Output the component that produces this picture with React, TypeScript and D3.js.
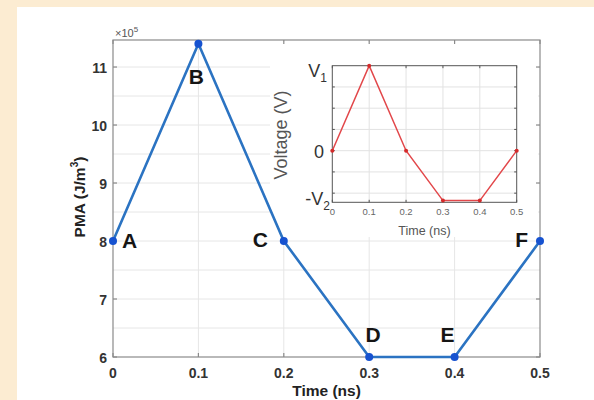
import React from "react";
import * as d3 from "d3";

// ---- data ----
const timeNs = [0, 0.1, 0.2, 0.3, 0.4, 0.5];
const pmaValues = [8, 11.4, 8, 6, 6, 8]; // ×10^5 J/m^3
const pointLabels = ["A", "B", "C", "D", "E", "F"];
const xTickValues = [0, 0.1, 0.2, 0.3, 0.4, 0.5];
const xTickLabels = ["0", "0.1", "0.2", "0.3", "0.4", "0.5"];
const yTickValues = [6, 7, 8, 9, 10, 11];
const yGridValues = [6.5, 7, 7.5, 8, 8.5, 9, 9.5, 10, 10.5, 11];

const insetTime = [0, 0.1, 0.2, 0.3, 0.4, 0.5];
const insetVoltage = [0, 4, 0, -2.35, -2.35, 0]; // arbitrary units (V1 = 4, V2 = 2.35)
const insetYGrid = [-2, -1, 0, 1, 2, 3];
const insetXTickLabels = ["0", "0.1", "0.2", "0.3", "0.4", "0.5"];

const W = 594;
const H = 400;
const FONT = "'Liberation Sans', Arial, Helvetica, sans-serif";

// label offsets relative to points (layout)
const labelLayout: Record<string, { dx: number; dy: number; anchor: string }> = {
  A: { dx: 9, dy: 7, anchor: "start" },
  B: { dx: -2, dy: 40, anchor: "middle" },
  C: { dx: -16, dy: 6, anchor: "end" },
  D: { dx: 4, dy: -15, anchor: "middle" },
  E: { dx: -7, dy: -15, anchor: "middle" },
  F: { dx: -12, dy: 6, anchor: "end" },
};

export default function App() {
  const x = d3.scaleLinear().domain([0, 0.5]).range([113, 540]);
  const y = d3.scaleLinear().domain([6, 11.466]).range([357, 40]);

  const line = d3
    .line<number>()
    .x((_, i) => x(timeNs[i]))
    .y((d) => y(d));

  const xi = d3.scaleLinear().domain([0, 0.5]).range([332.3, 516.7]);
  const yi = d3.scaleLinear().domain([-2.43, 4]).range([202.3, 65.7]);
  const iline = d3
    .line<number>()
    .x((_, i) => xi(insetTime[i]))
    .y((d) => yi(d));

  const [x0, x1] = x.range();
  const [y0, y1] = y.range();
  const [ix0, ix1] = xi.range();
  const [iy0, iy1] = yi.range();

  return (
    <div style={{ position: "absolute", left: 0, top: 0 }}>
      <svg width={W} height={H} style={{ display: "block" }} fontFamily={FONT}>
        <rect x={0} y={0} width={W} height={H} fill="#fcecd2" />
        <rect x={17} y={7} width={W - 17} height={H - 7} fill="#ffffff" />

        {/* main grid */}
        <g stroke="#e6e6e6" strokeWidth={1}>
          {xTickValues.slice(1, -1).map((t) => (
            <line key={"gx" + t} x1={x(t)} x2={x(t)} y1={y1} y2={y0} />
          ))}
          {yGridValues.map((v) => (
            <line key={"gy" + v} x1={x0} x2={x1} y1={y(v)} y2={y(v)} />
          ))}
        </g>

        {/* inset background (hides main grid) */}
        <rect x={270} y={42} width={538 - 270} height={237 - 42} fill="#ffffff" />

        {/* main axes box + ticks */}
        <g stroke="#8a8a8a" strokeWidth={1.2} fill="none">
          <rect x={x0} y={y1} width={x1 - x0} height={y0 - y1} />
          {xTickValues.map((t) => (
            <g key={"tx" + t}>
              <line x1={x(t)} x2={x(t)} y1={y0} y2={y0 - 4} />
              <line x1={x(t)} x2={x(t)} y1={y1} y2={y1 + 4} />
            </g>
          ))}
          {yTickValues.map((v) => (
            <g key={"ty" + v}>
              <line x1={x0} x2={x0 + 4} y1={y(v)} y2={y(v)} />
              <line x1={x1} x2={x1 - 4} y1={y(v)} y2={y(v)} />
            </g>
          ))}
        </g>

        {/* tick labels */}
        <g fontSize={14} fontWeight="bold" fill="#333">
          {xTickValues.map((t, i) => (
            <text key={"lx" + t} x={x(t)} y={y0 + 21} textAnchor="middle">
              {xTickLabels[i]}
            </text>
          ))}
          {yTickValues.map((v) => (
            <text key={"ly" + v} x={x0 - 6} y={y(v) + 6} textAnchor="end">
              {v}
            </text>
          ))}
        </g>
        <text x={115} y={37} fontSize={11} fill="#555">
          ×10<tspan fontSize={8} dy={-5}>5</tspan>
        </text>

        {/* axis labels */}
        <text x={(x0 + x1) / 2} y={396} textAnchor="middle" fontSize={15.5} fontWeight="bold" fill="#222">
          Time (ns)
        </text>
        <text
          transform="translate(85,197) rotate(-90)"
          textAnchor="middle"
          fontSize={15.5}
          fontWeight="bold"
          fill="#222"
        >
          PMA (J/m<tspan fontSize={10} dy={-7}>3</tspan>
          <tspan dy={7}>)</tspan>
        </text>

        {/* inset contents */}
        <g stroke="#e2e2e2" strokeWidth={1}>
          {insetTime.slice(1, -1).map((t) => (
            <line key={"igx" + t} x1={xi(t)} x2={xi(t)} y1={iy1} y2={iy0} />
          ))}
          {insetYGrid.map((v) => (
            <line key={"igy" + v} x1={ix0} x2={ix1} y1={yi(v)} y2={yi(v)} />
          ))}
        </g>
        <g stroke="#555" strokeWidth={1} fill="none">
          <rect x={ix0} y={iy1} width={ix1 - ix0} height={iy0 - iy1} />
          {insetTime.map((t) => (
            <g key={"itx" + t}>
              <line x1={xi(t)} x2={xi(t)} y1={iy0} y2={iy0 - 2.5} />
              <line x1={xi(t)} x2={xi(t)} y1={iy1} y2={iy1 + 2.5} />
            </g>
          ))}
          {insetYGrid.map((v) => (
            <g key={"ity" + v}>
              <line x1={ix0} x2={ix0 + 2.5} y1={yi(v)} y2={yi(v)} />
              <line x1={ix1} x2={ix1 - 2.5} y1={yi(v)} y2={yi(v)} />
            </g>
          ))}
        </g>
        <g fontSize={9.5} fill="#666">
          {insetTime.map((t, i) => (
            <text key={"ilx" + t} x={xi(t)} y={215} textAnchor="middle">
              {insetXTickLabels[i]}
            </text>
          ))}
        </g>
        <g fontSize={18} fill="#333" textAnchor="end">
          <text x={327} y={yi(4) + 11}>
            V<tspan fontSize={12} dy={5}>1</tspan>
          </text>
          <text x={324} y={yi(0) + 7}>0</text>
          <text x={330} y={yi(-2.35) + 4}>
            -V<tspan fontSize={12} dy={5}>2</tspan>
          </text>
        </g>
        <text x={(ix0 + ix1) / 2} y={235} textAnchor="middle" fontSize={12.5} fill="#555">
          Time (ns)
        </text>
        <text transform="translate(287,135) rotate(-90)" textAnchor="middle" fontSize={18} fill="#555">
          Voltage (V)
        </text>
        <path d={iline(insetVoltage) || ""} fill="none" stroke="#e2474a" strokeWidth={1.5} />
        {insetVoltage.map((v, i) => (
          <circle key={"ip" + i} cx={xi(insetTime[i])} cy={yi(v)} r={2} fill="#d42a2a" />
        ))}

        {/* main line (drawn over the inset background) */}
        <path d={line(pmaValues) || ""} fill="none" stroke="#2b73c2" strokeWidth={2.6} />
        {pmaValues.map((v, i) => (
          <circle key={"p" + i} cx={x(timeNs[i])} cy={y(v)} r={4} fill="#1652d0" />
        ))}
        {pmaValues.map((v, i) => {
          const L = labelLayout[pointLabels[i]];
          return (
            <text
              key={"pl" + i}
              x={x(timeNs[i]) + L.dx}
              y={y(v) + L.dy}
              textAnchor={L.anchor as any}
              fontSize={21}
              fontWeight="bold"
              fill="#151515"
            >
              {pointLabels[i]}
            </text>
          );
        })}
      </svg>
    </div>
  );
}
